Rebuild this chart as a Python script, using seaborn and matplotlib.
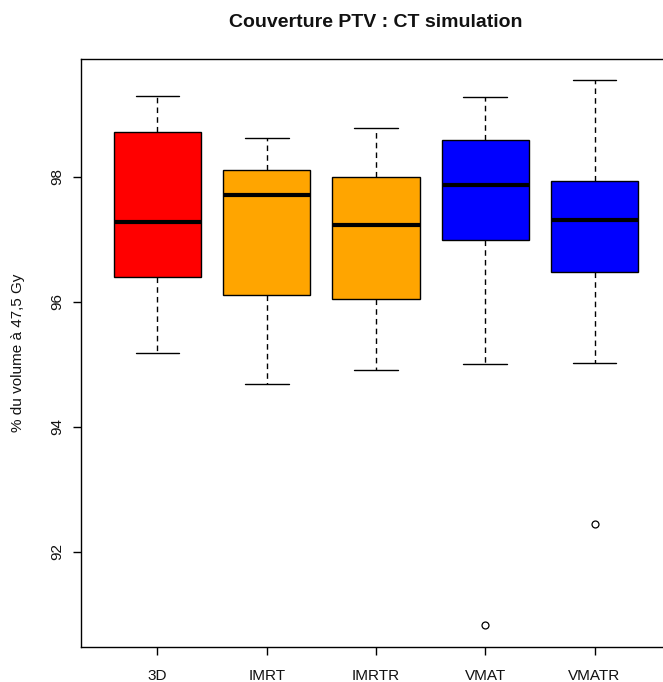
import matplotlib
matplotlib.use("Agg")
import matplotlib.pyplot as plt
import numpy as np
import pandas as pd
import seaborn as sns

# Five-number summaries per treatment technique
groups = ["3D", "IMRT", "IMRTR", "VMAT", "VMATR"]
lower_whisker = [95.18, 94.68, 94.90, 95.00, 95.02]
q1 = [96.39, 96.11, 96.04, 96.98, 96.47]
median = [97.28, 97.70, 97.23, 97.86, 97.30]
q3 = [98.72, 98.10, 98.00, 98.58, 97.93]
upper_whisker = [99.29, 98.62, 98.77, 99.28, 99.54]
outliers = [[], [], [], [90.83], [92.44]]
box_colors = ["#FF0000", "#FFA500", "#FFA500", "#0000FF", "#0000FF"]
y_ticks = [92, 94, 96, 98]

# Build a 9-value sample per group whose quartiles and whisker ends
# reproduce the summary above (index 2 = Q1, 4 = median, 6 = Q3).
rows = []
for g, lo, a, m, b, hi, outs in zip(groups, lower_whisker, q1, median, q3,
                                     upper_whisker, outliers):
    low_part = sorted(outs + [lo] * (2 - len(outs)))
    vals = low_part + [a, m, m, m, b, hi, hi]
    rows += [(g, v) for v in vals]
df = pd.DataFrame(rows, columns=["technique", "value"])

sns.set_style("white")
plt.rcParams["font.family"] = ["Liberation Sans", "DejaVu Sans"]

fig = plt.figure(figsize=(6.63, 6.82), dpi=100)
ax = fig.add_axes([81 / 663, 35.3 / 682, 590 / 663, 587.7 / 682])

sns.boxplot(
    data=df, x="technique", y="value", hue="technique", palette=box_colors,
    legend=False, width=0.8, saturation=1, linecolor="black", linewidth=1,
    whiskerprops=dict(linestyle=(0, (4, 3)), color="black", linewidth=1),
    capprops=dict(color="black", linewidth=1),
    medianprops=dict(color="black", linewidth=3),
    flierprops=dict(marker="o", markersize=5, markerfacecolor="none",
                    markeredgecolor="black", markeredgewidth=0.9),
    ax=ax,
)

ax.set_xlim(-0.7, 4.7)
ax.set_ylim(90.48, 99.88)
ax.set_yticks(y_ticks)
ax.set_yticklabels([str(t) for t in y_ticks])
plt.setp(ax.get_yticklabels(), rotation=90, va="center")

for side in ["left", "bottom", "top", "right"]:
    ax.spines[side].set_visible(True)
    ax.spines[side].set_color("black")
    ax.spines[side].set_linewidth(1)

ax.tick_params(axis="both", direction="out", length=6, width=1, color="black",
               labelsize=11, labelcolor="#111111", bottom=True, left=True)
ax.tick_params(axis="x", pad=10)
ax.tick_params(axis="y", pad=6)

ax.set_xlabel("")
ax.set_ylabel("% du volume à 47,5 Gy", fontsize=11, labelpad=18, color="#111111")
ax.set_title("Couverture PTV : CT simulation", fontsize=14, fontweight="bold",
             pad=23, color="#111111")

fig.savefig("out.png", dpi=100)
